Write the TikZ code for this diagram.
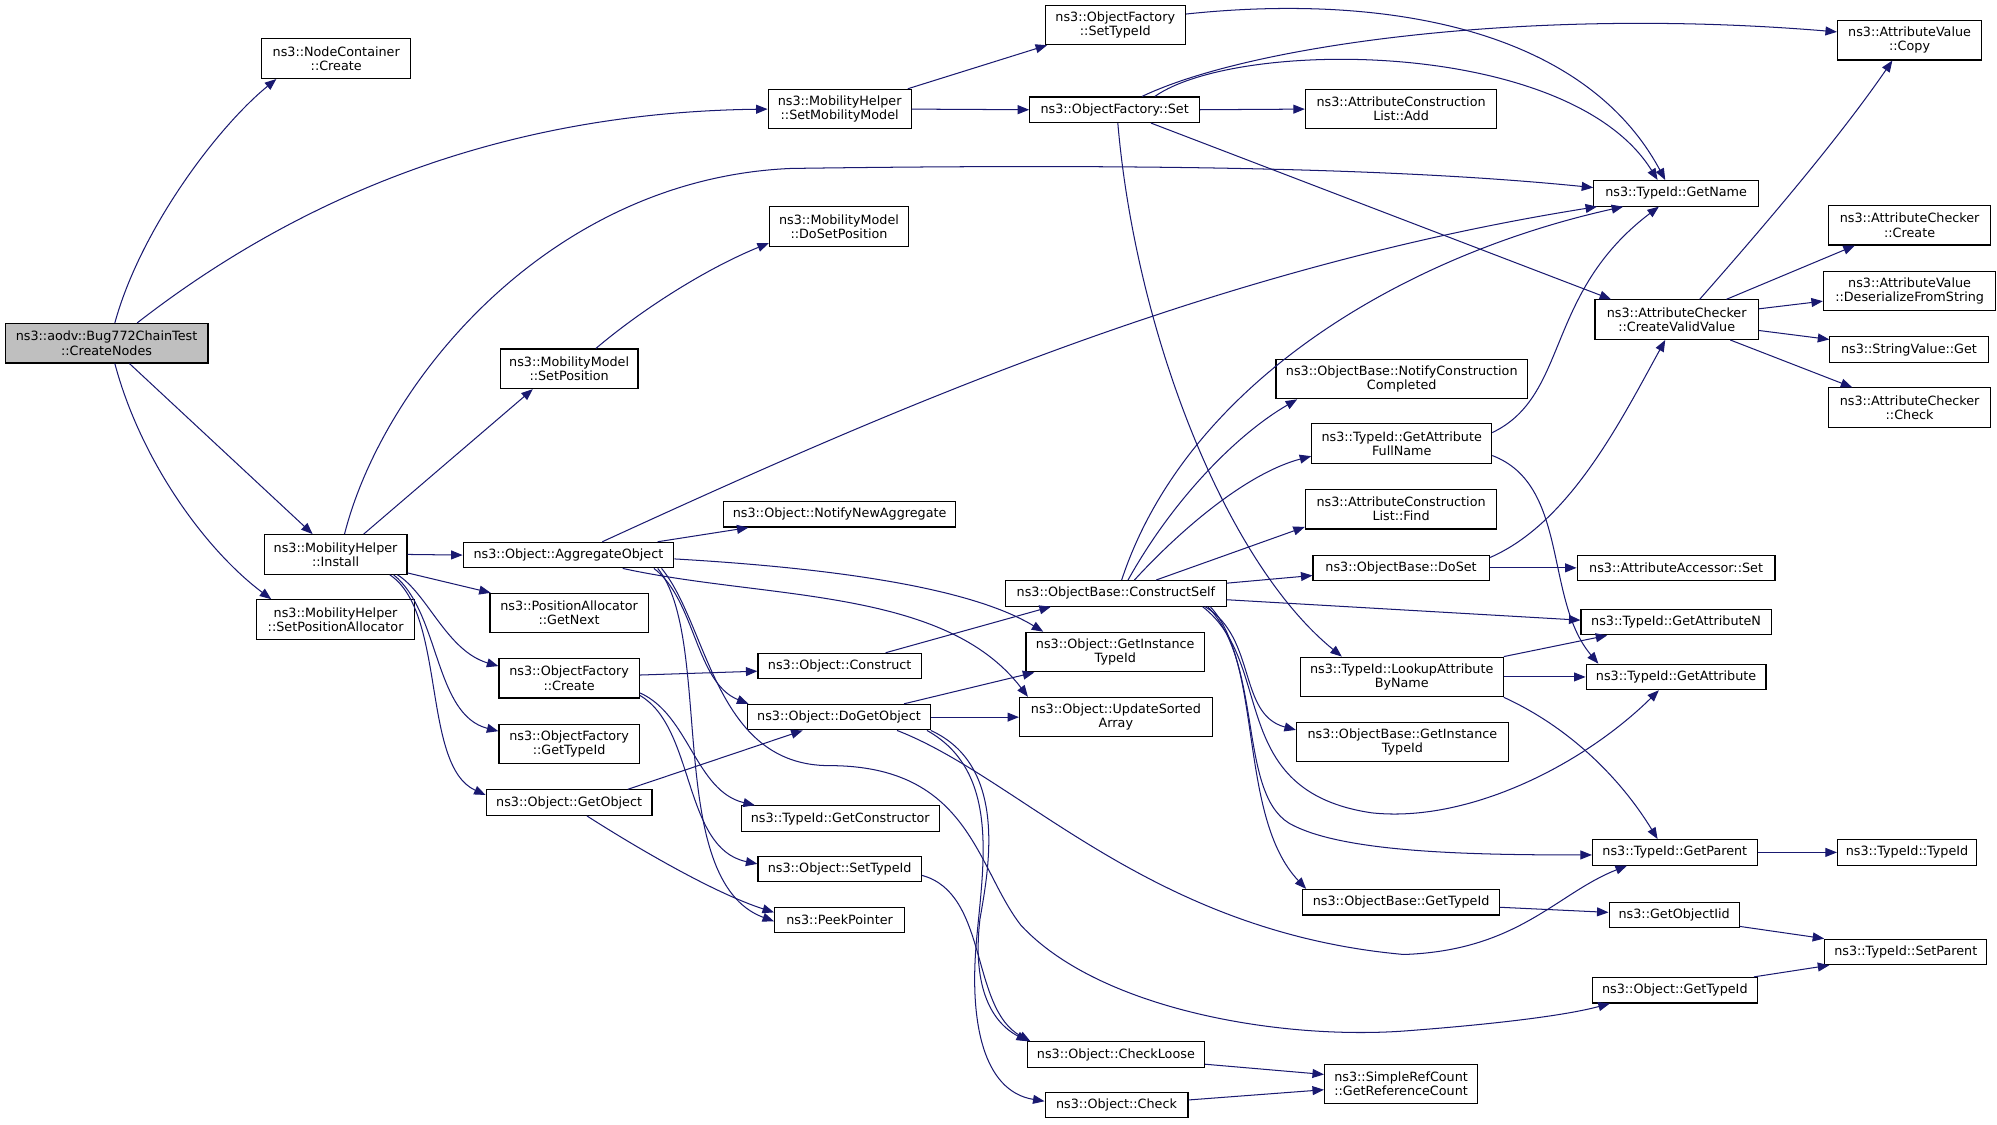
\documentclass[tikz,border=0pt]{standalone}
\usepackage{fontspec}
\setmainfont{DejaVu Sans}
\usepackage{tikz}
\usetikzlibrary{arrows.meta}
\definecolor{edgeblue}{HTML}{191970}
\definecolor{rootgray}{HTML}{BFBFBF}
\tikzstyle{fn} = [rectangle, draw=black, line width=0.9pt, fill=white, inner sep=1pt, minimum height=20pt, align=center, font=\fontsize{10}{11}\selectfont]
\tikzstyle{fntwo} = [fn, minimum height=31pt]
\tikzstyle{fnroot} = [fntwo, fill=rootgray]
\tikzstyle{call} = [draw=edgeblue, line width=0.8pt, -{Triangle[length=9pt,width=7pt]}]

\begin{document}
\begin{tikzpicture}[x=1pt,y=-1pt]
			\path[use as bounding box, fill=white] (0,0) rectangle (1565,881);
			\node (root) [fnroot, minimum width=159pt] at (83.5,269) {ns3::aodv::Bug772ChainTest\\::CreateNodes};
			\node (nc) [fntwo, minimum width=117pt] at (263.5,46) {ns3::NodeContainer\\::Create};
			\node (smm) [fntwo, minimum width=112pt] at (658,85.5) {ns3::MobilityHelper\\::SetMobilityModel};
			\node (ofst) [fntwo, minimum width=110pt] at (874,19.5) {ns3::ObjectFactory\\::SetTypeId};
			\node (ofset) [fn, minimum width=133pt] at (873.5,86) {ns3::ObjectFactory::Set};
			\node (acladd) [fntwo, minimum width=150pt] at (1098,85.5) {ns3::AttributeConstruction\\List::Add};
			\node (avcopy) [fntwo, minimum width=113pt] at (1496.5,31.5) {ns3::AttributeValue\\::Copy};
			\node (getname) [fn, minimum width=129pt] at (1313.5,151.5) {ns3::TypeId::GetName};
			\node (dosetpos) [fntwo, minimum width=109pt] at (657.5,177.5) {ns3::MobilityModel\\::DoSetPosition};
			\node (accreate) [fntwo, minimum width=127pt] at (1496.5,176.5) {ns3::AttributeChecker\\::Create};
			\node (avdeser) [fntwo, minimum width=135pt] at (1496.5,228) {ns3::AttributeValue\\::DeserializeFromString};
			\node (accvv) [fntwo, minimum width=128pt] at (1314,250.5) {ns3::AttributeChecker\\::CreateValidValue};
			\node (svget) [fn, minimum width=124pt] at (1496,274) {ns3::StringValue::Get};
			\node (accheck) [fntwo, minimum width=127pt] at (1496.5,319.5) {ns3::AttributeChecker\\::Check};
			\node (setpos) [fntwo, minimum width=108pt] at (446,289) {ns3::MobilityModel\\::SetPosition};
			\node (notify) [fntwo, minimum width=197pt] at (1098.5,297) {ns3::ObjectBase::NotifyConstruction\\Completed};
			\node (gafn) [fntwo, minimum width=141pt] at (1098.5,347.5) {ns3::TypeId::GetAttribute\\FullName};
			\node (aclfind) [fntwo, minimum width=150pt] at (1098,399) {ns3::AttributeConstruction\\List::Find};
			\node (nna) [fn, minimum width=182pt] at (658,403) {ns3::Object::NotifyNewAggregate};
			\node (install) [fntwo, minimum width=112pt] at (263,434.5) {ns3::MobilityHelper\\::Install};
			\node (aggobj) [fn, minimum width=165pt] at (445.5,435) {ns3::Object::AggregateObject};
			\node (doset) [fn, minimum width=138pt] at (1098,445) {ns3::ObjectBase::DoSet};
			\node (aaset) [fn, minimum width=155pt] at (1313.5,445) {ns3::AttributeAccessor::Set};
			\node (cself) [fn, minimum width=173pt] at (874.5,465) {ns3::ObjectBase::ConstructSelf};
			\node (spa) [fntwo, minimum width=124pt] at (263,485.5) {ns3::MobilityHelper\\::SetPositionAllocator};
			\node (pagn) [fntwo, minimum width=124pt] at (446,480.5) {ns3::PositionAllocator\\::GetNext};
			\node (gattrn) [fn, minimum width=149pt] at (1313.5,487.5) {ns3::TypeId::GetAttributeN};
			\node (ogitid) [fntwo, minimum width=140pt] at (874,511) {ns3::Object::GetInstance\\TypeId};
			\node (ofcreate) [fntwo, minimum width=110pt] at (446,531.5) {ns3::ObjectFactory\\::Create};
			\node (construct) [fn, minimum width=128pt] at (658,522) {ns3::Object::Construct};
			\node (lookup) [fntwo, minimum width=159pt] at (1098.5,530.5) {ns3::TypeId::LookupAttribute\\ByName};
			\node (gattr) [fn, minimum width=141pt] at (1313.5,530.5) {ns3::TypeId::GetAttribute};
			\node (usa) [fntwo, minimum width=151pt] at (874.5,562) {ns3::Object::UpdateSorted\\Array};
			\node (dgo) [fn, minimum width=143pt] at (657.5,562) {ns3::Object::DoGetObject};
			\node (obgitid) [fntwo, minimum width=166pt] at (1099,581.5) {ns3::ObjectBase::GetInstance\\TypeId};
			\node (ofgtid) [fntwo, minimum width=110pt] at (446,583) {ns3::ObjectFactory\\::GetTypeId};
			\node (getobj) [fn, minimum width=130pt] at (446,629) {ns3::Object::GetObject};
			\node (gctor) [fn, minimum width=155pt] at (658.5,641.5) {ns3::TypeId::GetConstructor};
			\node (gparent) [fn, minimum width=129pt] at (1312.5,668) {ns3::TypeId::GetParent};
			\node (tidtid) [fn, minimum width=109pt] at (1494.5,668) {ns3::TypeId::TypeId};
			\node (ostid) [fn, minimum width=128pt] at (658,681) {ns3::Object::SetTypeId};
			\node (obgtid) [fn, minimum width=154pt] at (1098,707) {ns3::ObjectBase::GetTypeId};
			\node (goiid) [fn, minimum width=102pt] at (1312,717) {ns3::GetObjectIid};
			\node (peek) [fn, minimum width=102pt] at (658,721) {ns3::PeekPointer};
			\node (setparent) [fn, minimum width=127pt] at (1493.5,746) {ns3::TypeId::SetParent};
			\node (ogtid) [fn, minimum width=129pt] at (1312.5,776) {ns3::Object::GetTypeId};
			\node (checkloose) [fn, minimum width=139pt] at (874.5,826.5) {ns3::Object::CheckLoose};
			\node (grc) [fntwo, minimum width=120pt] at (1098,849.5) {ns3::SimpleRefCount\\::GetReferenceCount};
			\node (check) [fn, minimum width=112pt] at (875,866) {ns3::Object::Check};
			%-----------------------------------------------
			%-----------------------------------------------
			\draw [call] ([xshift=6.5pt]root.north) .. controls (110,180) and (170,100) .. ([xshift=12pt]nc.south west);
			\draw [call] ([xshift=24pt]root.north) .. controls (240,150) and (400,88) .. (smm.west);
			\draw [call] ([xshift=18pt]root.south) -- ([xshift=-18pt]install.north);
			\draw [call] ([xshift=6.5pt]root.south) .. controls (110,360) and (160,430) .. ([xshift=12pt]spa.north west);
			%-----------------------------------------------
			\draw [call] ([xshift=-3pt]smm.north east) -- ([xshift=2pt]ofst.south west);
			\draw [call] (smm.east) -- (ofset.west);
			\draw [call] ([yshift=8.5pt]ofst.east) .. controls (1080,-5) and (1240,20) .. ([xshift=-8.5pt]getname.north);
			\draw [call] (ofset.east) -- (acladd.west);
			\draw [call] ([xshift=21.5pt]ofset.north) .. controls (980,35) and (1200,5) .. ([yshift=6.5pt]avcopy.west);
			\draw [call] ([xshift=31.5pt]ofset.north) .. controls (970,30) and (1230,30) .. ([xshift=-14.5pt]getname.north);
			\draw [call] ([xshift=28.5pt]ofset.south) -- ([xshift=13pt]accvv.north west);
			\draw [call] ([xshift=2.5pt]ofset.south) .. controls (890,260) and (960,440) .. ([xshift=33pt]lookup.north west);
			%-----------------------------------------------
			\draw [call] ([xshift=7pt]install.north) .. controls (300,300) and (430,140) .. (620,132) .. controls (900,128) and (1100,132) .. ([yshift=4.5pt]getname.west);
			\draw [call] ([xshift=22pt]install.north) -- ([xshift=26pt]setpos.south west);
			\draw [call] ([xshift=21pt]setpos.north) .. controls (500,245) and (550,212) .. ([yshift=3pt]dosetpos.south west);
			\draw [call] (install.east) -- (aggobj.west);
			\draw [call] ([yshift=-14.5pt]install.east) -- ([xshift=1pt]pagn.north west);
			\draw [call] ([xshift=-8pt]install.south east) .. controls (335,465) and (350,510) .. ([yshift=9.5pt]ofcreate.west);
			\draw [call] ([xshift=-11pt]install.south east) .. controls (345,480) and (340,560) .. ([yshift=10pt]ofgtid.west);
			\draw [call] ([xshift=-14pt]install.south east) .. controls (350,480) and (330,600) .. ([yshift=6pt]getobj.west);
			%-----------------------------------------------
			\draw [call] ([xshift=26.5pt]aggobj.north) .. controls (700,320) and (950,210) .. ([xshift=3pt]getname.south west);
			\draw [call] ([xshift=-13pt]aggobj.north east) -- ([xshift=20pt]nna.south west);
			\draw [call] ([yshift=-3pt]aggobj.east) .. controls (650,445) and (760,460) .. ([xshift=14pt]ogitid.north west);
			\draw [call] ([xshift=42.5pt]aggobj.south) .. controls (600,470) and (740,460) .. ([xshift=7pt]usa.north west);
			\draw [call] ([xshift=-16pt]aggobj.south east) .. controls (545,470) and (545,535) .. ([xshift=1pt]dgo.north west);
			\draw [call] ([xshift=-13pt]aggobj.south east) .. controls (560,500) and (520,690) .. ([yshift=-1pt]peek.west);
			\draw [call] ([xshift=-10pt]aggobj.south east) .. controls (555,490) and (560,600) .. (650,600) .. controls (760,600) and (765,680) .. (800,725) .. controls (860,790) and (1000,815) .. (1100,808) .. controls (1180,802) and (1230,795) .. ([xshift=14pt]ogtid.south west);
			%-----------------------------------------------
			\draw [call] ([xshift=4.5pt]cself.north) .. controls (930,300) and (1100,200) .. ([xshift=-41.5pt]getname.south);
			\draw [call] ([xshift=9.5pt]cself.north) .. controls (920,390) and (970,340) .. ([xshift=17pt]notify.south west);
			\draw [call] ([xshift=14.5pt]cself.north) .. controls (930,410) and (980,370) .. ([yshift=-10pt]gafn.west);
			\draw [call] ([xshift=31.5pt]cself.north) -- ([yshift=2pt]aclfind.south west);
			\draw [call] ([yshift=8pt]cself.east) -- ([yshift=-6pt]doset.west);
			\draw [call] ([yshift=-5pt]cself.east) -- ([yshift=1.5pt]gattrn.west);
			\draw [call] ([xshift=-19pt]cself.south east) .. controls (1000,520) and (960,620) .. (1075,637) .. controls (1150,645) and (1240,600) .. ([xshift=-13.5pt]gattr.south);
			\draw [call] ([xshift=-17pt]cself.south east) .. controls (985,500) and (970,560) .. ([yshift=9.5pt]obgitid.west);
			\draw [call] ([xshift=-15pt]cself.south east) .. controls (990,520) and (970,620) .. (1010,645) .. controls (1050,668) and (1150,670) .. ([yshift=-2pt]gparent.west);
			\draw [call] ([xshift=-13pt]cself.south east) .. controls (990,520) and (970,640) .. ([xshift=3pt]obgtid.north west);
			%-----------------------------------------------
			\draw [call] ([yshift=8.5pt]gafn.east) .. controls (1230,310) and (1210,230) .. ([xshift=-13.5pt]getname.south);
			\draw [call] ([yshift=-9.5pt]gafn.east) .. controls (1230,380) and (1210,470) .. ([xshift=10pt]gattr.north west);
			\draw [call] ([yshift=8pt]doset.east) .. controls (1230,410) and (1270,330) .. ([xshift=-9pt]accvv.south);
			\draw [call] (doset.east) -- (aaset.west);
			\draw [call] (lookup.north east) -- ([xshift=21pt]gattrn.south west);
			\draw [call] (lookup.east) -- (gattr.west);
			\draw [call] (lookup.south east) .. controls (1230,570) and (1270,610) .. ([xshift=-13.5pt]gparent.north);
			%-----------------------------------------------
			\draw [call] ([xshift=18pt]accvv.north) .. controls (1380,180) and (1440,110) .. ([xshift=-13.5pt]avcopy.south);
			\draw [call] ([xshift=39pt]accvv.north) -- ([xshift=21pt]accreate.south west);
			\draw [call] ([yshift=8.5pt]accvv.east) -- ([yshift=-8pt]avdeser.west);
			\draw [call] ([yshift=-8.5pt]accvv.east) -- ([yshift=8pt]svget.west);
			\draw [call] ([xshift=42pt]accvv.south) -- ([xshift=19pt]accheck.north west);
			\draw [call] (gparent.east) -- (tidtid.west);
			\draw [call] ([yshift=-4pt]obgtid.east) -- ([yshift=2pt]goiid.west);
			\draw [call] ([yshift=-9pt]goiid.east) -- (setparent.north west);
			\draw [call] ([xshift=-3pt]ogtid.north east) -- ([xshift=4pt]setparent.south west);
			\draw [call] ([yshift=-7.5pt]checkloose.east) -- ([yshift=7.5pt]grc.west);
			\draw [call] ([yshift=4pt]check.east) -- ([yshift=-4.5pt]grc.west);
			%-----------------------------------------------
			\draw [call] ([yshift=2.5pt]ofcreate.east) -- ([yshift=-4pt]construct.west);
			\draw [call] ([yshift=-11.5pt]ofcreate.east) .. controls (540,560) and (545,620) .. ([xshift=11pt]gctor.north west);
			\draw [call] ([yshift=-13.5pt]ofcreate.east) .. controls (545,570) and (535,665) .. ([yshift=4pt]ostid.west);
			\draw [call] ([xshift=36pt]construct.north) -- ([xshift=36pt]cself.south west);
			\draw [call] ([xshift=-21pt]dgo.north east) -- ([xshift=7pt]ogitid.south west);
			\draw [call] (dgo.east) -- (usa.west);
			\draw [call] ([xshift=46pt]getobj.north) -- ([xshift=-28.5pt]dgo.south);
			\draw [call] ([xshift=14pt]getobj.south) .. controls (500,665) and (560,700) .. ([yshift=6pt]peek.west);
			\draw [call] ([xshift=45.5pt]dgo.south) .. controls (800,610) and (900,730) .. (1100,748) .. controls (1190,745) and (1220,700) .. ([xshift=-37.5pt]gparent.south);
			\draw [call] (dgo.south east) .. controls (790,600) and (775,680) .. (768,720) .. controls (762,770) and (775,800) .. ([xshift=1pt]checkloose.north west);
			\draw [call] ([xshift=-3pt]dgo.south east) .. controls (785,605) and (770,680) .. (765,740) .. controls (760,800) and (770,855) .. ([yshift=3pt]check.west);
			\draw [call] ([yshift=-5pt]ostid.east) .. controls (775,700) and (760,790) .. ([xshift=3pt]checkloose.north west);
\end{tikzpicture}
\end{document}
